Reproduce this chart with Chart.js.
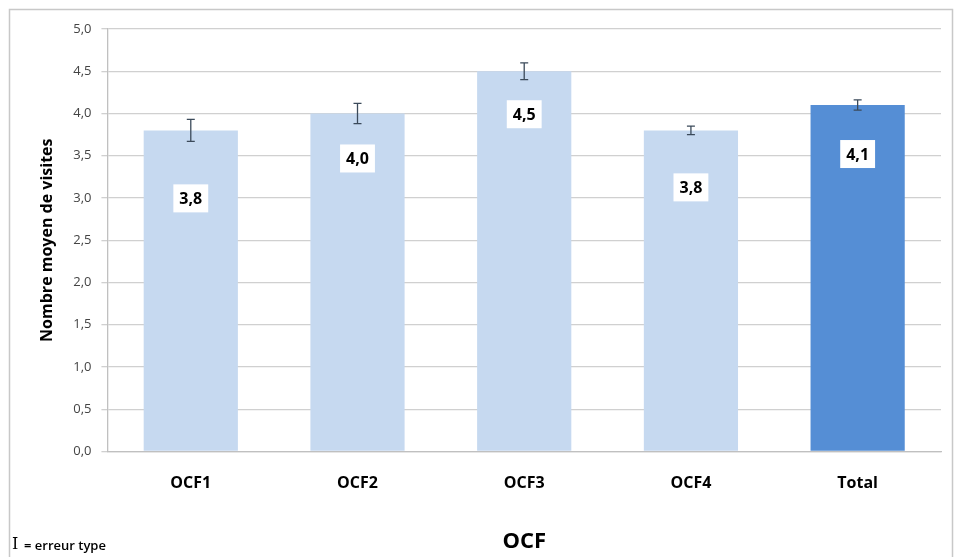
<!DOCTYPE html>
<html><head><meta charset="utf-8">
<script src="https://cdn.jsdelivr.net/npm/chart.js@4/dist/chart.umd.min.js"></script>
<style>html,body{margin:0;padding:0;background:#fff;}#wrap{width:955px;height:557px;position:relative;}</style>
</head><body><div id="wrap"><canvas id="c" width="955" height="557"></canvas></div>
<script>
const categories = ['OCF1', 'OCF2', 'OCF3', 'OCF4', 'Total'];
const meanVisits = [3.8, 4.0, 4.5, 3.8, 4.1];
const standardErrors = [0.13, 0.12, 0.10, 0.05, 0.06];
const valueLabels = ['3,8', '4,0', '4,5', '3,8', '4,1'];
const barColors = ['#c6d9f0', '#c6d9f0', '#c6d9f0', '#c6d9f0', '#558ed5'];
const labelOffsets = [68, 45, 43, 57, 49];

const FONT = "'Open Sans', 'Liberation Sans', sans-serif";

const decorPlugin = {
  id: 'decor',
  beforeDraw(chart) {
    const ctx = chart.ctx;
    ctx.save();
    ctx.strokeStyle = '#c8c8c8';
    ctx.lineWidth = 1.5;
    ctx.beginPath();
    ctx.moveTo(9.5, 560); ctx.lineTo(9.5, 9.5); ctx.lineTo(952.5, 9.5); ctx.lineTo(952.5, 560);
    ctx.stroke();
    ctx.restore();
  },
  afterDatasetsDraw(chart) {
    const ctx = chart.ctx;
    const y = chart.scales.y;
    const meta = chart.getDatasetMeta(0);
    ctx.save();
    meta.data.forEach((bar, i) => {
      const v = meanVisits[i], e = standardErrors[i];
      const yt = y.getPixelForValue(v + e), yb = y.getPixelForValue(v - e);
      ctx.strokeStyle = '#3b4a5a';
      ctx.lineWidth = 1.3;
      ctx.beginPath();
      ctx.moveTo(bar.x, yt); ctx.lineTo(bar.x, yb);
      ctx.moveTo(bar.x - 4, yt); ctx.lineTo(bar.x + 4, yt);
      ctx.moveTo(bar.x - 4, yb); ctx.lineTo(bar.x + 4, yb);
      ctx.stroke();
      const cy = bar.y + labelOffsets[i];
      ctx.font = "bold 16px " + FONT;
      const w = ctx.measureText(valueLabels[i]).width + 12;
      ctx.fillStyle = '#ffffff';
      ctx.fillRect(bar.x - w / 2, cy - 14, w, 28);
      ctx.fillStyle = '#000000';
      ctx.textAlign = 'center';
      ctx.textBaseline = 'middle';
      ctx.fillText(valueLabels[i], bar.x, cy + 1);
    });
    ctx.textAlign = 'left';
    ctx.textBaseline = 'middle';
    ctx.fillStyle = '#000';
    ctx.font = "16px 'DejaVu Serif', serif";
    ctx.fillText('I', 12, 545);
    ctx.font = "600 13px " + FONT;
    ctx.fillText('= erreur type', 24, 546);
    ctx.restore();
  }
};

new Chart(document.getElementById('c'), {
  type: 'bar',
  data: {
    labels: categories,
    datasets: [{
      data: meanVisits,
      backgroundColor: barColors,
      borderWidth: 0,
      categoryPercentage: 1,
      barPercentage: 0.565
    }]
  },
  options: {
    responsive: false,
    animation: false,
    layout: { padding: { left: 38, right: 14, top: 29, bottom: 2 } },
    plugins: { legend: { display: false }, tooltip: { enabled: false } },
    scales: {
      y: {
        min: 0, max: 5,
        ticks: {
          stepSize: 0.5,
          color: '#444',
          font: { family: FONT, size: 13 },
          padding: 10,
          callback: v => v.toFixed(1).replace('.', ',')
        },
        grid: { color: '#d0d0d0', lineWidth: 1.3, drawTicks: true, tickLength: 6 },
        border: { color: '#c0c0c0', width: 1.3 },
        title: {
          display: true,
          text: 'Nombre moyen de visites',
          color: '#000',
          font: { family: FONT, size: 16, weight: 'bold' },
          padding: { top: 0, bottom: 6 }
        }
      },
      x: {
        ticks: { color: '#000', font: { family: FONT, size: 16, weight: 'bold' }, padding: 14 },
        grid: { display: false },
        border: { color: '#c0c0c0', width: 1.3 },
        title: {
          display: true,
          text: 'OCF',
          color: '#000',
          font: { family: FONT, size: 22, weight: 'bold' },
          padding: { top: 22, bottom: 0 }
        }
      }
    }
  },
  plugins: [decorPlugin]
});
</script></body></html>
